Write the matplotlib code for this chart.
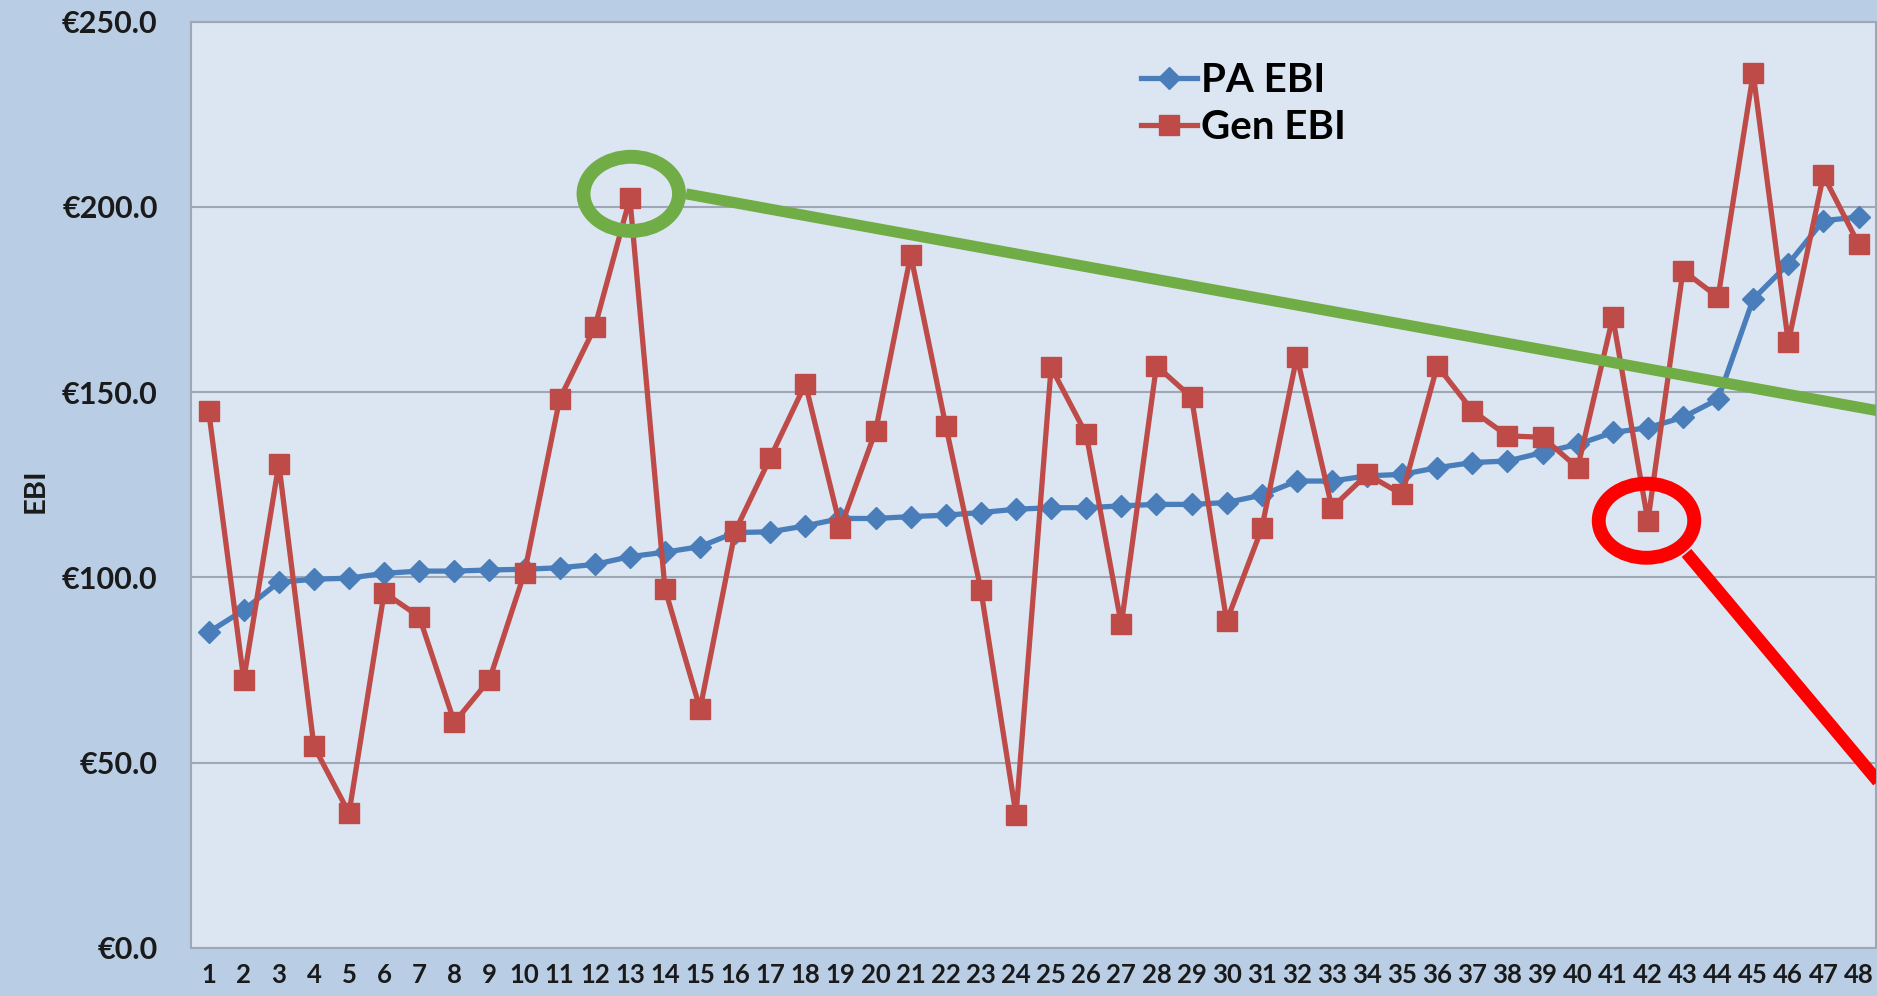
import numpy as np
import matplotlib.pyplot as plt
from matplotlib.patches import Ellipse

## data
idx = np.arange(1, 49)
pa_ebi = [85.2, 91.2, 98.7, 99.5, 99.8, 101.1, 101.7, 101.7, 102.0, 102.2,
          102.6, 103.5, 105.6, 106.8, 108.3, 112.1, 112.3, 113.9, 115.9, 115.9,
          116.4, 116.8, 117.5, 118.4, 118.8, 118.8, 119.3, 119.7, 119.7, 120.2,
          122.2, 126.0, 126.0, 127.4, 127.8, 129.6, 131.0, 131.4, 133.7, 135.9,
          139.1, 140.4, 143.2, 148.1, 175.1, 184.6, 196.3, 197.2]
gen_ebi = [145.0, 72.4, 130.7, 54.4, 36.4, 95.9, 89.4, 60.9, 72.4, 101.3,
           148.1, 167.5, 202.3, 96.9, 64.5, 112.5, 132.3, 152.2, 113.4, 139.5,
           187.0, 140.9, 96.6, 35.9, 156.7, 138.6, 87.3, 157.1, 148.6, 88.2,
           113.2, 159.6, 118.8, 127.8, 122.4, 157.1, 145.0, 138.2, 137.8, 129.6,
           170.2, 115.2, 182.8, 175.6, 236.0, 163.4, 208.5, 190.0]
yticks = [0, 50, 100, 150, 200, 250]

FONT = ['Lato', 'DejaVu Sans']
plt.rcParams['font.family'] = FONT
plt.rcParams['font.weight'] = 'bold'

fig = plt.figure(figsize=(18.77, 9.96), dpi=100, facecolor='#b9cde5')
ax = fig.add_axes([0.1018, 0.0482, 0.8977, 0.9302])
ax.set_facecolor('#dce6f2')

ax.grid(axis='y', color='#9ea7b3', linewidth=1.5)
ax.set_axisbelow(True)

ax.plot(idx, pa_ebi, color='#4a7ebb', linewidth=3.8, marker='D', markersize=11,
        label='PA EBI', zorder=3)
ax.plot(idx, gen_ebi, color='#be4b48', linewidth=3.8, marker='s', markersize=15,
        label='Gen EBI', zorder=4)

# highlight annotations
ax.add_patch(Ellipse((13.04, 203.5), 2.72, 20.0, fill=False, edgecolor='#70ad47',
                     linewidth=10, zorder=5))
ax.plot([14.6, 49.0], [203.5, 203.5 - 1.724 * (49.0 - 14.6)], color='#70ad47',
        linewidth=8, zorder=5, solid_capstyle='butt')
ax.add_patch(Ellipse((41.96, 115.3), 2.72, 20.0, fill=False, edgecolor='#ff0000',
                     linewidth=10, zorder=5))
ax.plot([43.1, 49.0], [106.6, 106.6 - 11.3 * (49.0 - 43.1)], color='#ff0000',
        linewidth=9, zorder=5, solid_capstyle='butt')

ax.set_xlim(0.5, 48.5)
ax.set_ylim(0, 250)
ax.set_xticks(idx)
ax.set_xticklabels([str(i) for i in idx])
ax.set_yticks(yticks)
ax.set_yticklabels(['€%.1f' % v for v in yticks])
ax.tick_params(axis='x', length=0, pad=11, labelsize=18.5, labelcolor='#1a1a1a')
ax.tick_params(axis='y', length=0, pad=24, labelsize=22, labelcolor='#1a1a1a')
for s in ax.spines.values():
    s.set_color('#9ea7b3')
    s.set_linewidth(1.5)

fig.text(0.019, 0.507, 'EBI', rotation=90, ha='center', va='center',
         fontsize=21, fontweight='bold', color='#1a1a1a')

ax.legend(loc='upper left', bbox_to_anchor=(0.597, 0.958),
          bbox_transform=fig.transFigure, frameon=False, fontsize=29,
          handlelength=1.4, handletextpad=0.1, labelspacing=0.25, borderpad=0)

fig.savefig('out.png', dpi=100, facecolor=fig.get_facecolor())
